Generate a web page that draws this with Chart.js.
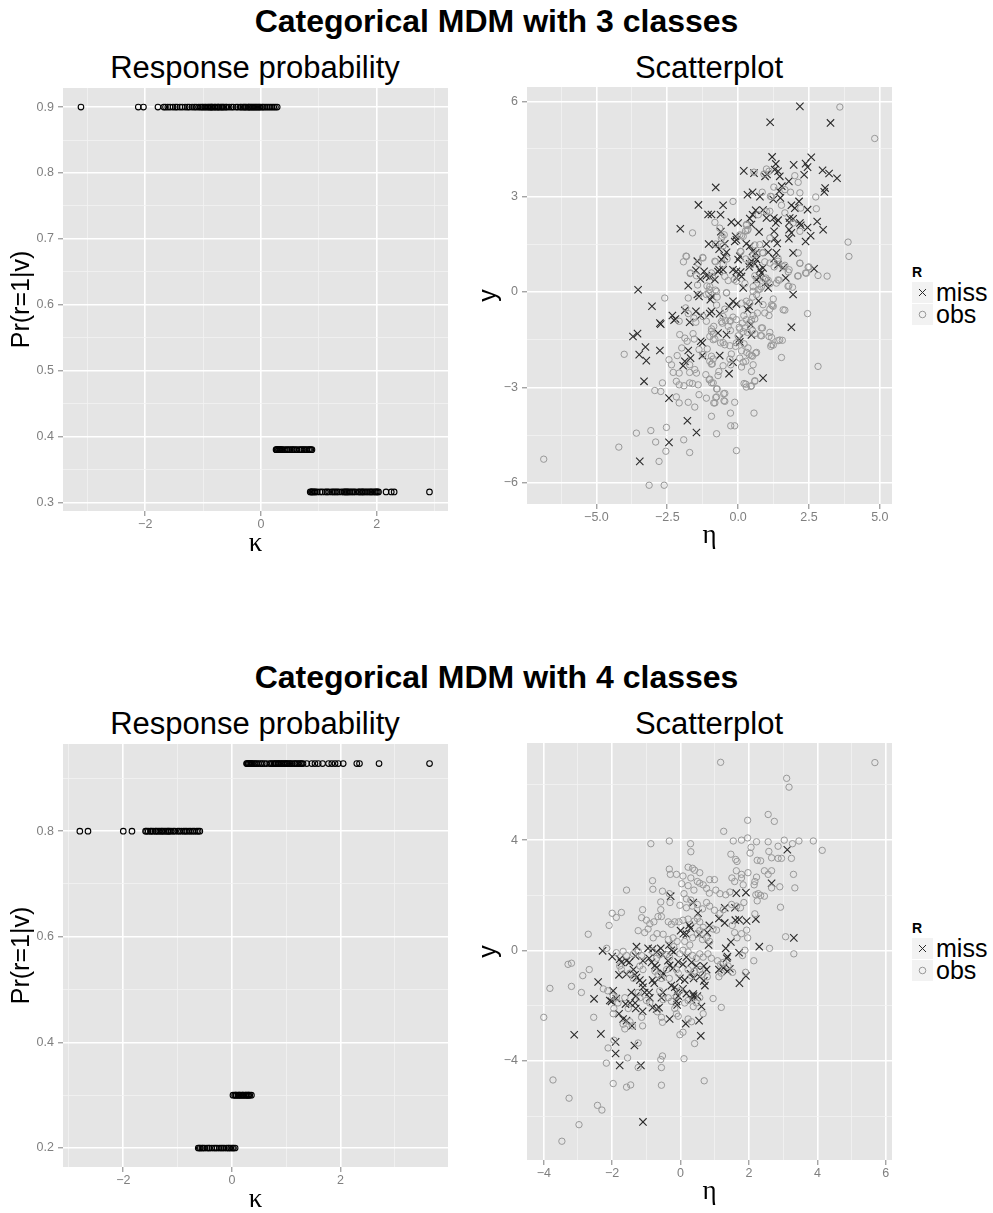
<!DOCTYPE html>
<html><head><meta charset="utf-8">
<script src="https://cdn.jsdelivr.net/npm/chart.js@4.4.1/dist/chart.umd.min.js"></script>
<style>
html,body{margin:0;padding:0;width:993px;height:1213px;overflow:hidden;background:#fff;}
canvas{position:absolute;}
.t{position:absolute;white-space:nowrap;font-family:"Liberation Sans",Arial,sans-serif;color:#000;line-height:1;}
.ctr{text-align:center;}
.key{position:absolute;width:21px;height:21px;background:#f2f2f2;}
.key svg{display:block;}
</style></head><body>

<div class="t ctr" style="left:0;width:993px;top:5px;font-size:32px;font-weight:bold;">Categorical MDM with 3 classes</div>
<div class="t ctr" style="left:55px;width:400px;top:52px;font-size:31px;">Response probability</div>
<div class="t ctr" style="left:509px;width:400px;top:52px;font-size:31px;">Scatterplot</div>

<div class="t ctr" style="left:0;width:993px;top:661px;font-size:32px;font-weight:bold;">Categorical MDM with 4 classes</div>
<div class="t ctr" style="left:55px;width:400px;top:708px;font-size:31px;">Response probability</div>
<div class="t ctr" style="left:509px;width:400px;top:708px;font-size:31px;">Scatterplot</div>

<canvas id="c1" width="470" height="502" style="left:0;top:68px;"></canvas>
<canvas id="c2" width="435" height="503" style="left:470px;top:67px;"></canvas>
<canvas id="c3" width="470" height="489" style="left:0;top:724px;"></canvas>
<canvas id="c4" width="435" height="490" style="left:470px;top:723px;"></canvas>

<div class="t" style="left:912px;top:265px;font-size:14px;font-weight:bold;">R</div>
<div class="key" style="left:912px;top:282px;"><svg width="21" height="21"><path d="M7 7L14 14M14 7L7 14" stroke="#2b2b2b" stroke-width="1" fill="none"/></svg></div>
<div class="key" style="left:912px;top:304px;"><svg width="21" height="21"><circle cx="10.5" cy="10.5" r="3.3" stroke="#999" stroke-width="1" fill="none"/></svg></div>
<div class="t" style="left:936px;top:280px;font-size:25px;">miss</div>
<div class="t" style="left:936px;top:302px;font-size:25px;">obs</div>

<div class="t" style="left:912px;top:921px;font-size:14px;font-weight:bold;">R</div>
<div class="key" style="left:912px;top:938px;"><svg width="21" height="21"><path d="M7 7L14 14M14 7L7 14" stroke="#2b2b2b" stroke-width="1" fill="none"/></svg></div>
<div class="key" style="left:912px;top:960px;"><svg width="21" height="21"><circle cx="10.5" cy="10.5" r="3.3" stroke="#999" stroke-width="1" fill="none"/></svg></div>
<div class="t" style="left:936px;top:936px;font-size:25px;">miss</div>
<div class="t" style="left:936px;top:958px;font-size:25px;">obs</div>

<script>
// ---------------- DATA ----------------
// Panel 1: response probability, 3 classes
const prob3 = [0.9, 0.38, 0.316];
const kappa3_p1 = [-3.11,-2.12,-2.03,-1.78,-1.68,-1.65,-1.61,-1.57,-1.52,-1.48,-1.45,-1.4,-1.36,-1.31,-1.27,-1.24,-1.19,-1.15,-1.12,-1.08,-1.05,-1.02,-1.0,-0.97,-0.95,-0.92,-0.9,-0.88,-0.86,-0.85,-0.83,-0.8,-0.79,-0.76,-0.74,-0.73,-0.7,-0.68,-0.66,-0.64,-0.61,-0.59,-0.55,-0.51,-0.48,-0.43,-0.4,-0.36,-0.34,-0.31,-0.29,-0.27,-0.25,-0.22,-0.21,-0.19,-0.17,-0.15,-0.13,-0.11,-0.09,-0.07,-0.05,-0.03,-0.01,0.02,0.04,0.07,0.1,0.13,0.16,0.19,0.22,0.25,0.28];
const kappa3_p2 = [0.26,0.27,0.28,0.3,0.31,0.33,0.34,0.36,0.38,0.42,0.45,0.48,0.51,0.54,0.56,0.59,0.62,0.66,0.69,0.71,0.74,0.76,0.79,0.82,0.84,0.86,0.88];
const kappa3_p3 = [0.85,0.87,0.88,0.9,0.92,0.94,0.97,1.02,1.06,1.11,1.14,1.17,1.22,1.25,1.28,1.31,1.34,1.39,1.43,1.45,1.47,1.49,1.51,1.54,1.57,1.6,1.63,1.68,1.7,1.73,1.75,1.77,1.8,1.83,1.86,1.89,1.91,1.94,1.97,1.99,2.01,2.03,2.16,2.25,2.3,2.91];

// Panel 2: scatterplot, 3 classes  [eta, y]
const miss3 = [[2.18,5.84],[1.13,5.34],[3.26,5.32],[1.2,4.25],[2.58,4.24],[1.33,4.03],[2.38,4.04],[2.45,3.93],[1.96,4.0],[2.98,3.83],[3.21,3.73],[3.49,3.58],[0.2,3.81],[0.56,3.74],[0.95,3.64],[1.02,3.7],[1.29,3.85],[1.41,3.8],[1.47,3.64],[2.33,3.69],[1.79,3.48],[-0.79,3.29],[1.54,3.33],[1.45,3.17],[3.07,3.27],[3.04,3.15],[0.33,3.06],[0.51,3.14],[0.77,3.0],[1.49,2.96],[1.24,2.91],[2.15,2.85],[-1.4,2.74],[-0.53,2.73],[1.88,2.73],[2.0,2.64],[2.45,2.59],[0.62,2.57],[0.88,2.58],[0.51,2.43],[-1.06,2.44],[-0.94,2.44],[-0.62,2.43],[1.0,2.33],[1.26,2.33],[1.41,2.26],[1.33,2.17],[1.82,2.33],[1.94,2.3],[1.8,2.19],[-0.24,2.2],[0,2.17],[2.79,2.22],[2.18,2.17],[2.21,2.1],[0.41,2.31],[0.47,2.12],[-2.04,1.99],[-0.61,1.9],[0.74,1.89],[1.27,1.91],[3.0,1.96],[2.45,2.03],[1.8,1.96],[1.88,1.86],[1.79,1.68],[-0.09,1.75],[-0.12,1.59],[-0.06,1.64],[1.29,1.68],[1.38,1.53],[2.56,1.77],[2.38,1.59],[-1.04,1.51],[-0.79,1.49],[-0.47,1.52],[-0.67,1.35],[1.0,1.51],[0.29,1.52],[0.41,1.44],[-0.41,1.25],[-0.49,1.12],[-0.59,1.02],[0.51,1.28],[0.62,1.23],[1.06,1.25],[1.35,1.23],[1.27,1.05],[1.94,1.23],[0.06,1.12],[0,1.02],[0.47,0.97],[0.65,1.02],[0.59,0.89],[-1.44,0.97],[-1.49,0.68],[0.39,0.79],[0.41,0.89],[-1.2,0.65],[-1.33,0.41],[-1.12,0.51],[-0.53,0.7],[-0.71,0.64],[-0.67,0.7],[-0.18,0.7],[-0.06,0.65],[0.09,0.63],[0.76,0.7],[0.88,0.76],[0.82,0.6],[1.41,0.86],[1.59,0.76],[1.68,0.44],[2.68,0.73],[-1.0,0.47],[-0.82,0.39],[-0.06,0.44],[0.12,0.49],[0.65,0.39],[0.76,0.47],[0.98,0.3],[-1.76,0.2],[0.18,0.13],[1.06,0.13],[-3.53,0.07],[-1.44,-0.08],[-1.38,-0.14],[-0.92,-0.14],[-0.98,-0.24],[1.94,-0.08],[-3.04,-0.45],[-0.18,-0.29],[-0.06,-0.38],[0.39,-0.45],[0.33,-0.56],[0.72,-0.28],[-1.88,-0.58],[-0.94,-0.61],[-1.0,-0.68],[-1.49,-0.61],[-1.32,-0.74],[-0.65,-0.68],[-0.32,-0.45],[-2.32,-0.74],[-2.26,-0.89],[-2.21,-0.85],[-2.76,-0.98],[-2.73,-1.01],[-1.71,-0.95],[0.45,-1.03],[1.88,-1.11],[-3.71,-1.4],[-3.55,-1.31],[-0.71,-1.29],[-0.41,-1.34],[0.04,-1.48],[0.06,-1.57],[0.47,-1.35],[-1.32,-1.55],[-1.26,-1.6],[-3.27,-1.73],[-3.49,-1.97],[-3.24,-2.16],[-2.76,-1.84],[-1.76,-1.84],[-1.26,-2.0],[-0.65,-2.0],[-1.68,-2.08],[-0.18,-2.21],[-1.88,-2.18],[-1.94,-2.32],[-0.32,-2.57],[-3.32,-2.81],[0.88,-2.71],[-2.44,-3.34],[-1.79,-4.05],[-1.47,-4.42],[-2.44,-4.73],[-3.47,-5.33]];
const obs3 = [[3.59,5.82],[4.82,4.83],[1.0,3.87],[0.91,3.71],[1.09,3.8],[0.56,3.77],[2.0,3.66],[2.12,3.45],[1.26,3.3],[1.65,3.22],[0.85,3.14],[1.85,3.14],[2.18,3.12],[2.74,2.99],[1.14,3.01],[1.18,3.0],[-0.18,2.85],[1.53,2.73],[2.21,2.64],[2.76,2.62],[1.12,2.54],[1.0,2.53],[1.65,2.49],[0.71,2.43],[-0.82,2.19],[0.29,2.1],[0.32,1.93],[0.3,2.13],[0.35,1.97],[0.26,1.92],[1.94,2.17],[-1.61,1.86],[-0.65,2.01],[-0.56,1.75],[-0.49,1.8],[-0.59,1.69],[0.06,1.8],[0.18,1.75],[0.12,1.77],[2.18,1.91],[3.88,1.57],[3.91,1.12],[1.12,1.7],[0.76,1.49],[0.88,1.23],[-1.82,1.12],[-1.84,1.13],[-1.93,0.95],[-1.25,1.09],[-1.4,0.9],[-1.24,1.07],[-0.79,1.51],[-0.53,1.45],[0.59,1.48],[-0.82,0.97],[-0.8,0.95],[-0.53,0.88],[-0.39,1.04],[0.08,1.28],[0.1,1.27],[0.27,1.04],[0.45,0.86],[0.53,1.16],[0.65,1.21],[0.86,1.24],[0.94,0.95],[2.12,1.23],[1.12,0.91],[1.27,0.79],[1.41,0.97],[1.41,1.06],[1.65,0.84],[1.59,0.8],[1.8,0.7],[1.77,0.63],[2.18,0.91],[2.18,0.9],[2.47,0.78],[2.5,0.79],[2.38,0.6],[2.41,0.59],[2.82,0.52],[3.14,0.5],[2.12,0.51],[2.1,0.5],[-1.69,0.58],[-1.68,0.6],[-1.47,0.51],[-1.43,0.22],[-1.1,0.19],[-0.94,0.6],[-0.91,0.49],[-0.47,0.49],[-0.35,0.36],[-0.14,0.39],[-0.06,0.34],[0.24,0.27],[0.53,0.17],[0.77,0.09],[0.59,0.51],[0.67,0.39],[0.98,0.44],[0.94,0.4],[1.06,0.37],[1.12,0.26],[1.35,0.28],[1.41,0.38],[1.45,0.37],[1.76,0.18],[1.79,0.19],[1.92,0.15],[0.71,0.07],[0.82,0.16],[-2.59,-0.19],[-1.76,-0.19],[-1.38,-0.08],[-1.12,-0.08],[-1.04,-0.04],[-1.02,0.07],[-1.0,0.17],[-0.8,0.06],[-0.76,0.02],[-0.74,-0.16],[-0.41,-0.03],[-0.41,-0.02],[0.53,0.02],[0.65,-0.08],[0.51,-0.16],[0.29,-0.29],[0.12,-0.35],[0.41,-0.35],[1.24,-0.22],[1.18,-0.4],[1.21,-0.43],[1.24,-0.45],[1.12,-0.54],[1.59,-0.56],[1.65,-0.57],[2.45,-0.68],[0.88,-0.4],[0.94,-0.66],[1.09,-0.74],[0.68,-0.66],[0.53,-0.74],[0.59,-0.85],[0.47,-0.87],[0.41,-0.96],[0.2,-0.74],[0.29,-0.87],[0.15,-0.98],[-0.18,-0.79],[-0.06,-0.87],[-0.27,-0.92],[-0.29,-0.9],[-0.53,-0.77],[-0.44,-0.9],[-0.56,-0.98],[-0.47,-0.54],[-0.76,-0.41],[-0.59,-0.93],[-1.24,-0.77],[-1.12,-0.92],[-2.08,-0.92],[-1.85,-0.5],[-1.76,-0.68],[-1.56,-0.82],[-1.49,-0.95],[-0.86,-1.08],[-0.94,-1.24],[-0.94,-1.16],[-0.88,-1.32],[-0.82,-1.48],[-0.35,-1.08],[-0.27,-1.21],[0.04,-1.11],[0.06,-1.16],[0.18,-1.25],[0,-1.38],[0.24,-1.13],[0.33,-1.27],[0.51,-1.21],[0.59,-1.31],[0.82,-1.13],[0.86,-1.13],[0.79,-1.37],[0.83,-1.38],[1.12,-1.27],[1.09,-1.4],[1.18,-1.43],[1.18,-1.66],[1.15,-1.71],[1.24,-1.67],[1.41,-1.53],[1.47,-1.51],[1.56,-1.52],[-2.06,-1.34],[-1.88,-1.45],[-1.8,-1.55],[-1.59,-1.31],[-1.55,-1.48],[-1.0,-1.4],[-0.88,-1.5],[-0.62,-1.6],[-0.53,-1.59],[-0.47,-1.66],[-0.29,-1.69],[-0.09,-1.71],[-0.06,-1.6],[0.21,-1.63],[0.35,-1.76],[0.12,-1.85],[0.3,-1.9],[0.47,-2.0],[0.65,-1.9],[-0.24,-1.95],[-0.29,-2.11],[-4.02,-1.96],[-2.44,-2.13],[-2.35,-2.29],[-2.29,-2.53],[-2.15,-2.0],[-1.99,-1.76],[-1.38,-1.81],[-1.24,-1.97],[-1.09,-1.79],[-0.94,-2.02],[-1.0,-2.18],[-0.91,-2.26],[-0.88,-2.11],[-0.94,-2.27],[-0.53,-2.32],[-0.68,-2.5],[-0.71,-2.63],[-0.26,-2.29],[0.06,-2.08],[0.27,-2.18],[0.18,-2.21],[0.39,-1.97],[0.51,-2.02],[0.62,-1.92],[0.53,-2.29],[0.47,-2.5],[0.12,-2.36],[1.53,-2.06],[2.82,-2.34],[-1.71,-2.29],[-1.53,-2.44],[-2.08,-2.55],[-2.18,-2.81],[-2.08,-2.92],[-1.71,-2.53],[-1.47,-2.55],[-1.14,-2.6],[-1.02,-2.76],[-1.0,-2.74],[-0.94,-2.86],[-0.88,-2.86],[-0.74,-3.05],[-0.76,-3.05],[-1.71,-2.86],[-1.61,-2.88],[-1.41,-2.92],[-1.91,-2.95],[-2.67,-2.86],[-2.94,-3.1],[-2.73,-3.13],[0.21,-2.88],[0.29,-2.99],[0.27,-2.9],[0.45,-2.97],[0.47,-2.95],[0.59,-2.81],[0.59,-2.79],[-0.51,-3.2],[-0.47,-3.19],[-2.18,-3.3],[-2.08,-3.49],[-1.76,-3.47],[-1.38,-3.23],[-1.12,-3.34],[-0.76,-3.3],[-0.79,-3.32],[-0.82,-3.49],[-0.86,-3.49],[-0.5,-3.42],[-0.47,-3.44],[-1.53,-3.62],[-0.12,-3.47],[-0.27,-3.81],[0.56,-3.81],[-0.94,-3.91],[-2.53,-4.26],[-3.08,-4.36],[-3.59,-4.44],[-0.26,-4.21],[-0.12,-4.21],[-0.76,-4.46],[-1.92,-4.65],[-2.91,-4.72],[-4.21,-4.88],[-2.55,-5.01],[-1.71,-5.05],[-0.06,-4.99],[-2.79,-5.33],[-6.86,-5.26],[-3.14,-6.08],[-2.61,-6.08]];

// Panel 3: response probability, 4 classes
const prob4 = [0.928, 0.8, 0.3, 0.2];
const kappa4_p1 = [0.27,0.28,0.3,0.31,0.33,0.35,0.36,0.38,0.41,0.43,0.46,0.49,0.53,0.56,0.6,0.64,0.7,0.72,0.75,0.78,0.8,0.82,0.85,0.86,0.88,0.91,0.92,0.95,0.97,0.99,1.01,1.03,1.06,1.08,1.11,1.15,1.17,1.2,1.23,1.26,1.28,1.31,1.38,1.47,1.53,1.59,1.67,1.78,1.84,1.9,1.96,2.05,2.3,2.35,2.71,3.64];
const kappa4_p2 = [-2.8,-2.65,-2.0,-1.84,-1.59,-1.57,-1.54,-1.5,-1.48,-1.45,-1.41,-1.39,-1.36,-1.33,-1.3,-1.28,-1.25,-1.22,-1.19,-1.17,-1.15,-1.12,-1.08,-1.05,-1.0,-0.97,-0.93,-0.89,-0.86,-0.83,-0.79,-0.76,-0.72,-0.69,-0.65,-0.62,-0.59];
const kappa4_p3 = [0.02,0.05,0.07,0.08,0.11,0.13,0.14,0.16,0.19,0.2,0.22,0.25,0.26,0.28,0.3,0.31,0.33,0.36];
const kappa4_p4 = [-0.62,-0.6,-0.58,-0.55,-0.53,-0.5,-0.46,-0.43,-0.41,-0.37,-0.33,-0.3,-0.27,-0.23,-0.2,-0.17,-0.14,-0.1,-0.07,-0.05,-0.02,0.01,0.03,0.06];

// Panel 4: scatterplot, 4 classes [eta, y]
const miss4 = [[3.12,3.65],[2.66,2.44],[1.63,2.08],[1.91,2.1],[-0.29,1.97],[0.37,1.74],[0.51,1.35],[1.29,1.55],[1.59,1.55],[1.12,1.16],[1.29,1.0],[1.6,1.1],[1.71,1.12],[1.93,1.07],[2.2,1.14],[0.25,0.91],[0.29,0.81],[0.84,0.91],[0.78,0.65],[0,0.72],[0.08,0.61],[0.17,0.59],[0.54,0.59],[3.31,0.46],[1.47,0.31],[0.82,0.2],[2.3,0.14],[1.71,-0.08],[-2.28,-0.01],[-1.29,0.14],[-0.95,0.08],[-0.82,0.05],[-0.7,-0.05],[-0.58,0.08],[-0.53,-0.15],[-0.34,0.2],[-0.27,0.01],[-0.2,-0.05],[1.32,0.08],[1.37,-0.22],[1.35,-0.28],[-2.0,-0.22],[-1.78,-0.31],[-1.73,-0.43],[-1.58,-0.37],[-1.5,-0.43],[-1.32,-0.2],[-1.1,-0.37],[-0.92,-0.28],[-0.85,-0.43],[-0.75,-0.54],[-0.7,-0.63],[-0.37,-0.37],[-0.32,-0.54],[-0.22,-0.63],[-0.07,-0.41],[0.07,-0.5],[0.17,-0.24],[0.32,-0.43],[0.46,-0.56],[0.68,-0.56],[0.76,-0.69],[1.12,-0.69],[1.25,-0.63],[1.37,-0.75],[1.44,-0.66],[1.91,-0.92],[1.72,-1.18],[-2.41,-1.14],[-1.8,-0.88],[-1.58,-0.86],[-1.38,-0.69],[-1.33,-0.88],[-1.29,-0.98],[-1.19,-1.07],[-1.11,-1.18],[-0.82,-1.07],[-0.77,-1.18],[-0.56,-0.95],[-0.51,-0.82],[-0.27,-1.27],[-0.17,-1.33],[-0.02,-1.01],[0.12,-1.07],[0.29,-0.84],[0.38,-1.01],[0.56,-0.95],[0.68,-1.1],[0.71,-1.27],[-1.97,-1.46],[-1.44,-1.52],[-1.31,-1.65],[-1.1,-1.33],[-1.05,-1.52],[-0.92,-1.52],[-0.9,-1.71],[-0.51,-1.52],[-0.56,-1.71],[-0.12,-1.52],[-0.07,-1.65],[0.07,-1.39],[0.17,-1.56],[0.37,-1.58],[0.49,-1.65],[-2.53,-1.75],[-2.07,-1.81],[-2.02,-1.84],[-1.88,-1.74],[-1.61,-1.94],[-1.48,-1.9],[-1.33,-1.9],[-1.31,-2.1],[-0.82,-2.07],[-0.7,-2.12],[-0.63,-2.07],[-0.12,-1.84],[-0.1,-1.97],[0.32,-1.78],[0.38,-1.65],[0.61,-2.03],[-1.8,-2.29],[-1.68,-2.48],[-1.58,-2.54],[-1.11,-2.2],[-0.32,-2.48],[0.15,-2.65],[0.54,-2.54],[-1.42,-2.73],[-3.11,-3.05],[-2.33,-3.02],[0.59,-3.09],[-1.9,-3.31],[-1.35,-3.44],[-1.9,-3.73],[-1.78,-4.16],[-1.16,-4.16],[-1.1,-6.21]];
const obs4 = [[1.17,6.82],[5.68,6.81],[3.1,6.24],[3.17,5.92],[2.56,4.93],[2.74,4.68],[1.96,4.72],[1.26,4.32],[1.96,4.08],[1.78,4.0],[1.54,3.97],[2.22,3.94],[2.56,3.94],[3.03,4.0],[3.27,3.87],[3.46,3.97],[3.88,3.97],[4.14,3.63],[-0.87,3.87],[-0.33,3.97],[0.29,3.87],[0.3,3.58],[2.06,3.74],[2.03,3.53],[2.85,3.78],[2.58,3.59],[1.47,3.49],[1.61,3.3],[1.65,3.23],[2.24,3.27],[2.34,3.25],[2.66,3.36],[2.85,3.34],[2.95,3.34],[3.24,3.34],[0.22,3.02],[0.41,2.91],[0.35,2.98],[-0.33,2.95],[-0.3,2.76],[-0.12,2.76],[0.07,2.7],[0.56,2.82],[0.3,2.63],[1.63,2.89],[1.78,2.76],[1.97,2.82],[2.45,2.89],[2.56,2.76],[2.66,2.89],[3.3,2.76],[-0.82,2.53],[0.03,2.42],[0.22,2.35],[0.39,2.19],[0.49,2.5],[0.56,2.44],[0.66,2.38],[0.85,2.57],[0.99,2.57],[1.5,2.63],[1.58,2.5],[1.78,2.63],[1.83,2.38],[2.17,2.5],[2.22,2.66],[2.15,2.38],[2.9,2.31],[2.66,2.27],[3.34,2.27],[-1.58,2.19],[-0.81,2.22],[-0.53,2.15],[-0.33,2.06],[0.1,2.06],[0.17,1.87],[0.3,1.83],[0.76,2.25],[0.84,2.08],[1.03,2.19],[1.15,2.06],[1.32,2.02],[1.44,2.12],[2.2,2.02],[2.27,2.06],[2.24,1.8],[2.34,2.0],[2.45,1.97],[-0.31,1.74],[-0.58,1.76],[-0.02,1.64],[0.17,1.55],[0.34,1.61],[0.49,1.67],[0.64,1.51],[0.76,1.74],[0.85,1.61],[0.99,1.46],[1.15,1.35],[1.25,1.48],[1.49,1.67],[1.64,1.61],[1.75,1.55],[1.85,1.74],[2.92,1.57],[2.17,1.33],[-2.0,1.35],[-1.73,1.38],[-1.88,1.2],[-1.11,1.48],[-1.14,1.19],[-0.58,1.48],[-0.66,1.23],[-0.56,1.23],[-1.0,1.1],[-0.9,0.97],[-0.78,1.04],[-0.36,1.04],[-0.27,0.95],[-0.17,1.04],[-0.05,1.04],[0.07,1.1],[0.22,1.14],[0.4,1.07],[0.49,1.16],[0.56,1.04],[0.66,0.84],[0.56,0.72],[0.49,0.61],[0.95,0.78],[1.05,0.74],[1.51,0.91],[1.58,0.65],[1.65,0.46],[1.78,0.61],[1.93,0.74],[1.96,0.46],[3.07,0.5],[-2.09,0.91],[-2.7,0.59],[-1.24,0.72],[-1.05,0.65],[-0.95,0.78],[-0.8,0.46],[-0.69,0.61],[-0.51,0.59],[-0.36,0.4],[-0.22,0.46],[-0.1,0.33],[0.12,0.33],[0.27,0.2],[0.35,0.46],[0.64,0.4],[0.76,0.46],[0.85,0.33],[1.88,0.01],[1.81,-0.18],[2.6,0.08],[3.31,-0.12],[-2.16,0.08],[-1.88,-0.08],[-1.68,-0.03],[-1.58,-0.18],[-1.38,-0.12],[-1.24,-0.03],[-1.14,-0.18],[-0.82,-0.03],[-0.7,-0.28],[-0.61,-0.15],[-0.41,-0.15],[-0.32,-0.24],[-0.2,0.14],[-0.02,-0.12],[0.07,0.01],[0.22,-0.05],[0.35,-0.18],[0.46,-0.28],[0.56,-0.12],[0.66,-0.24],[0.8,-0.12],[0.9,-0.28],[1.08,-0.37],[1.17,-0.5],[1.25,-0.43],[1.52,-0.79],[1.39,-0.56],[1.9,-0.79],[2.14,-0.37],[-3.29,-0.5],[-3.19,-0.46],[-2.67,-0.69],[-2.86,-0.91],[-3.19,-1.3],[-3.82,-1.37],[-2.9,-1.52],[-2.26,-1.39],[-2.13,-1.46],[-1.97,-1.65],[-1.78,-0.56],[-1.73,-0.69],[-1.48,-0.82],[-1.38,-1.01],[-1.19,-0.56],[-1.1,-0.69],[-0.75,-0.75],[-0.66,-0.88],[-0.56,-1.01],[-0.41,-0.69],[-0.33,-1.01],[-0.12,-0.69],[-0.07,-0.82],[0.22,-0.69],[0.32,-0.92],[0.41,-0.75],[0.56,-0.69],[0.64,-0.86],[0.78,-0.95],[1.12,-0.95],[1.19,-0.82],[0.95,-1.74],[1.19,-2.06],[-1.88,-1.71],[-1.83,-1.9],[-1.63,-1.71],[-1.53,-2.1],[-1.24,-1.52],[-1.19,-1.71],[-1.0,-1.81],[-0.9,-1.9],[-0.61,-1.46],[-0.51,-1.78],[-0.36,-1.71],[-0.27,-1.84],[-0.12,-1.65],[-0.02,-1.46],[0.12,-1.9],[0.22,-1.81],[0.37,-2.03],[0.46,-1.9],[0.56,-1.71],[0.66,-2.29],[-1.95,-2.1],[-1.97,-2.29],[-1.68,-2.67],[-1.63,-2.84],[-1.48,-2.58],[-1.41,-2.73],[-1.14,-2.42],[-1.11,-2.73],[-0.68,-2.22],[-0.56,-2.42],[-0.53,-2.6],[-0.17,-2.1],[-0.12,-2.29],[-0.07,-2.38],[0.22,-2.48],[0.32,-2.58],[-0.02,-3.05],[0.07,-2.96],[-2.54,-2.42],[-4.0,-2.42],[-1.95,-3.25],[-2.12,-3.53],[-1.24,-3.35],[0.41,-3.37],[-2.17,-4.08],[-1.55,-3.89],[-1.24,-4.24],[-0.53,-3.82],[-0.58,-3.95],[-0.56,-4.24],[0.1,-3.92],[-3.73,-4.69],[-1.97,-4.82],[-1.58,-4.95],[-1.46,-4.87],[-0.56,-4.88],[0.69,-4.72],[-3.26,-5.35],[-2.43,-5.61],[-2.3,-5.78],[-2.97,-6.31],[-3.47,-6.91]];

// Axis ticks (major = labelled, minor = unlabelled grid)
const ticks1x = [-2, 0, 2],               minor1x = [-3, -1, 1, 3];
const ticks1y = [0.3,0.4,0.5,0.6,0.7,0.8,0.9], minor1y = [0.35,0.45,0.55,0.65,0.75,0.85];
const ticks2x = [-5, -2.5, 0, 2.5, 5],    minor2x = [-6.25,-3.75,-1.25,1.25,3.75];
const ticks2y = [-6, -3, 0, 3, 6],        minor2y = [-4.5,-1.5,1.5,4.5];
const ticks3x = [-2, 0, 2],               minor3x = [-3, -1, 1, 3];
const ticks3y = [0.2, 0.4, 0.6, 0.8],     minor3y = [0.3, 0.5, 0.7, 0.9];
const ticks4x = [-4, -2, 0, 2, 4, 6],     minor4x = [-3, -1, 1, 3, 5];
const ticks4y = [-4, 0, 4],               minor4y = [-6, -2, 2, 6];

// ---------------- DRAWING ----------------
const SANS = '"Liberation Sans", Arial, sans-serif';
const SERIF = '"Liberation Serif", "Times New Roman", serif';
const minus = s => s.replace('-', '\u2212');
const fmt1 = v => minus(v.toFixed(1));
const fmt0 = v => minus(String(Math.round(v)));

const bgPlugin = {
  id: 'panelbg',
  beforeDraw(chart) {
    const a = chart.chartArea, ctx = chart.ctx;
    ctx.save(); ctx.fillStyle = '#e5e5e5';
    ctx.fillRect(a.left, a.top, a.right - a.left, a.bottom - a.top);
    ctx.restore();
  }
};

function isIn(list, v) { return list.some(m => Math.abs(m - v) < 1e-9); }

function axis(o) {
  const all = o.major.concat(o.minor).sort((a, b) => a - b);
  return {
    type: 'linear', min: o.min, max: o.max,
    afterBuildTicks: s => { s.ticks = all.map(v => ({ value: v })); },
    afterFit: s => { if (o.size.w) s.width = o.size.w; if (o.size.h) s.height = o.size.h; },
    ticks: {
      autoSkip: false, maxRotation: 0, minRotation: 0, padding: o.tickPad,
      color: '#7f7f7f', font: { family: SANS, size: 12.5 },
      callback: v => isIn(o.major, v) ? o.fmt(v) : ''
    },
    grid: {
      color: c => isIn(o.major, c.tick.value) ? '#ffffff' : '#f3f3f3',
      lineWidth: c => isIn(o.major, c.tick.value) ? 1.6 : 0.8,
      drawTicks: true, tickLength: 5, tickWidth: 1,
      tickColor: c => isIn(o.major, c.tick.value) ? '#7f7f7f' : 'rgba(0,0,0,0)'
    },
    border: { display: false },
    title: { display: true, text: o.title, color: '#000',
      font: { family: o.titleFont, size: o.titleSize, lineHeight: o.titleLH },
      padding: o.titlePad }
  };
}

function makeChart(id, datasets, x, y, pad) {
  new Chart(document.getElementById(id), {
    type: 'scatter',
    data: { datasets },
    options: {
      responsive: false, maintainAspectRatio: false, animation: false, events: [],
      layout: { padding: pad },
      plugins: { legend: { display: false }, tooltip: { enabled: false } },
      scales: { x: axis(x), y: axis(y) }
    },
    plugins: [bgPlugin]
  });
}

function rows(kappas, probs) {
  const pts = [];
  kappas.forEach((arr, i) => arr.forEach(k => pts.push({ x: k, y: probs[i] })));
  return pts;
}
const toXY = arr => arr.map(p => ({ x: p[0], y: p[1] }));

function probSet(data) {
  return [{ data, pointStyle: 'circle', pointRadius: 2.8, pointBorderWidth: 1.1,
    pointBorderColor: '#000', pointBackgroundColor: 'rgba(0,0,0,0)' }];
}
function scatterSets(miss, obs) {
  return [
    { label: 'obs', data: toXY(obs), pointStyle: 'circle', pointRadius: 3.2, pointBorderWidth: 1,
      pointBorderColor: '#999999', pointBackgroundColor: 'rgba(0,0,0,0)' },
    { label: 'miss', data: toXY(miss), pointStyle: 'crossRot', pointRadius: 5.2, pointBorderWidth: 1.1,
      pointBorderColor: '#2b2b2b', pointBackgroundColor: 'rgba(0,0,0,0)' }
  ];
}

// Panel 1
makeChart('c1', probSet(rows([kappa3_p1, kappa3_p2, kappa3_p3], prob3)),
  { min: -3.42, max: 3.23, major: ticks1x, minor: minor1x, fmt: fmt0, size: { h: 59 }, tickPad: 1,
    title: '\u03BA', titleFont: SERIF, titleSize: 27, titleLH: 0.8, titlePad: { top: 0, bottom: 15 } },
  { min: 0.287, max: 0.929, major: ticks1y, minor: minor1y, fmt: fmt1, size: { w: 63 }, tickPad: 4,
    title: 'Pr(r=1|v)', titleFont: SANS, titleSize: 25, titleLH: 1, titlePad: { top: 9.5, bottom: 0 } },
  { left: 0, top: 20, right: 22, bottom: 0 });

// Panel 2
makeChart('c2', scatterSets(miss3, obs3),
  { min: -7.45, max: 5.43, major: ticks2x, minor: minor2x, fmt: fmt1, size: { h: 66 }, tickPad: 1,
    title: '\u03B7', titleFont: SERIF, titleSize: 27, titleLH: 0.8, titlePad: { top: 0, bottom: 23 } },
  { min: -6.67, max: 6.45, major: ticks2y, minor: minor2y, fmt: fmt0, size: { w: 57 }, tickPad: 4,
    title: 'y', titleFont: SANS, titleSize: 25, titleLH: 1, titlePad: { top: 7, bottom: 0 } },
  { left: 0, top: 20, right: 13, bottom: 0 });

// Panel 3
makeChart('c3', probSet(rows([kappa4_p1, kappa4_p2, kappa4_p3, kappa4_p4], prob4)),
  { min: -3.11, max: 3.98, major: ticks3x, minor: minor3x, fmt: fmt0, size: { h: 46 }, tickPad: 1,
    title: '\u03BA', titleFont: SERIF, titleSize: 27, titleLH: 0.8, titlePad: { top: 0, bottom: 2 } },
  { min: 0.164, max: 0.965, major: ticks3y, minor: minor3y, fmt: fmt1, size: { w: 63 }, tickPad: 4,
    title: 'Pr(r=1|v)', titleFont: SANS, titleSize: 25, titleLH: 1, titlePad: { top: 9.5, bottom: 0 } },
  { left: 0, top: 20, right: 22, bottom: 0 });

// Panel 4
makeChart('c4', scatterSets(miss4, obs4),
  { min: -4.49, max: 6.18, major: ticks4x, minor: minor4x, fmt: fmt0, size: { h: 53 }, tickPad: 1,
    title: '\u03B7', titleFont: SERIF, titleSize: 27, titleLH: 0.8, titlePad: { top: 0, bottom: 10 } },
  { min: -7.59, max: 7.52, major: ticks4y, minor: minor4y, fmt: fmt0, size: { w: 57 }, tickPad: 4,
    title: 'y', titleFont: SANS, titleSize: 25, titleLH: 1, titlePad: { top: 7, bottom: 0 } },
  { left: 0, top: 20, right: 13, bottom: 0 });
</script>
</body></html>
